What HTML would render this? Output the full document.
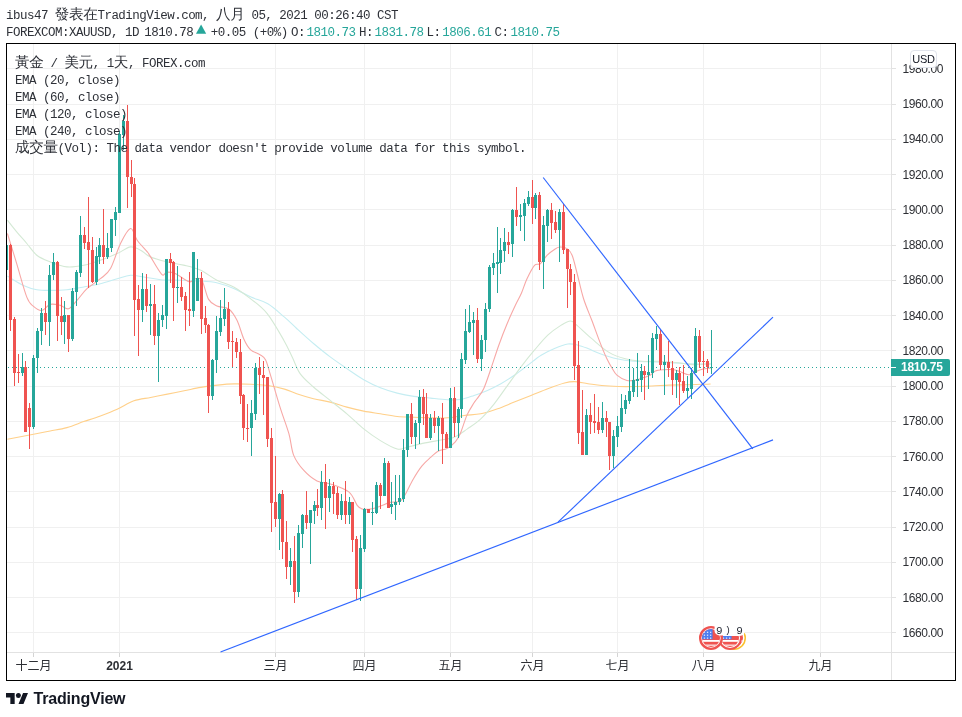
<!DOCTYPE html>
<html lang="zh-Hant"><head><meta charset="utf-8"><title>XAUUSD</title>
<style>
html,body{margin:0;padding:0;background:#fff;}
body{width:962px;height:717px;position:relative;overflow:hidden;font-family:"Liberation Sans","Noto Sans CJK TC",sans-serif;color:#131722;}
.chart{position:absolute;left:0;top:0;}
.frame{position:absolute;left:6px;top:43px;width:950px;height:638px;box-sizing:border-box;border:1px solid #000;}
.mono{position:absolute;white-space:pre;font-family:"Liberation Mono","WenQuanYi Zen Hei","Noto Sans CJK TC",monospace;font-size:12.5px;letter-spacing:-0.5px;line-height:16px;color:#2e3138;}
.mono .cj{font-size:14.6px;letter-spacing:-0.4px;}
.mono .v{color:#26a69a;}
.pl{position:absolute;left:896px;width:47px;text-align:right;font-size:12px;letter-spacing:-0.4px;line-height:16px;color:#2d2f34;}
.tm{position:absolute;top:658px;width:60px;text-align:center;font-size:12px;line-height:16px;color:#2d2f34;}
.tm.b{font-weight:bold;}
.usd{position:absolute;left:910px;top:50px;width:27px;height:18px;box-sizing:border-box;border:1px solid #e0e3eb;border-radius:4px;background:#fff;font-size:11px;line-height:16px;text-align:center;color:#131722;letter-spacing:-0.3px;}
.cur{position:absolute;left:891px;top:359px;width:59px;height:17px;background:#26a69a;border-radius:0 2px 2px 0;color:#fff;font-weight:bold;font-size:12px;letter-spacing:-0.25px;line-height:17px;}
.cur span{position:absolute;left:10px;top:0;}
.cur i{position:absolute;left:0;top:8px;width:5px;height:1px;background:#fff;}
.logo{position:absolute;left:6px;top:692.5px;}
.tv{position:absolute;left:33.6px;top:689.5px;font-size:16px;font-weight:bold;line-height:18px;color:#131722;letter-spacing:-0.2px;}
</style></head><body>
<svg class="chart" width="962" height="717" viewBox="0 0 962 717">
<g shape-rendering="crispEdges"><rect x="33" y="44" width="1" height="608" fill="#f0f0f0"/><rect x="33" y="653" width="1" height="4" fill="#d4d4d4"/><rect x="119" y="44" width="1" height="608" fill="#f0f0f0"/><rect x="119" y="653" width="1" height="4" fill="#d4d4d4"/><rect x="275" y="44" width="1" height="608" fill="#f0f0f0"/><rect x="275" y="653" width="1" height="4" fill="#d4d4d4"/><rect x="364" y="44" width="1" height="608" fill="#f0f0f0"/><rect x="364" y="653" width="1" height="4" fill="#d4d4d4"/><rect x="450" y="44" width="1" height="608" fill="#f0f0f0"/><rect x="450" y="653" width="1" height="4" fill="#d4d4d4"/><rect x="532" y="44" width="1" height="608" fill="#f0f0f0"/><rect x="532" y="653" width="1" height="4" fill="#d4d4d4"/><rect x="617" y="44" width="1" height="608" fill="#f0f0f0"/><rect x="617" y="653" width="1" height="4" fill="#d4d4d4"/><rect x="703" y="44" width="1" height="608" fill="#f0f0f0"/><rect x="703" y="653" width="1" height="4" fill="#d4d4d4"/><rect x="820" y="44" width="1" height="608" fill="#f0f0f0"/><rect x="820" y="653" width="1" height="4" fill="#d4d4d4"/><rect x="7" y="68" width="888" height="1" fill="#f0f0f0"/><rect x="7" y="104" width="888" height="1" fill="#f0f0f0"/><rect x="7" y="139" width="888" height="1" fill="#f0f0f0"/><rect x="7" y="174" width="888" height="1" fill="#f0f0f0"/><rect x="7" y="209" width="888" height="1" fill="#f0f0f0"/><rect x="7" y="245" width="888" height="1" fill="#f0f0f0"/><rect x="7" y="280" width="888" height="1" fill="#f0f0f0"/><rect x="7" y="315" width="888" height="1" fill="#f0f0f0"/><rect x="7" y="350" width="888" height="1" fill="#f0f0f0"/><rect x="7" y="386" width="888" height="1" fill="#f0f0f0"/><rect x="7" y="421" width="888" height="1" fill="#f0f0f0"/><rect x="7" y="456" width="888" height="1" fill="#f0f0f0"/><rect x="7" y="491" width="888" height="1" fill="#f0f0f0"/><rect x="7" y="527" width="888" height="1" fill="#f0f0f0"/><rect x="7" y="562" width="888" height="1" fill="#f0f0f0"/><rect x="7" y="597" width="888" height="1" fill="#f0f0f0"/><rect x="7" y="632" width="888" height="1" fill="#f0f0f0"/><rect x="891" y="44" width="1" height="636" fill="#e2e2e2"/><rect x="7" y="652" width="948" height="1" fill="#e2e2e2"/><rect x="891" y="68" width="5" height="1" fill="#e2e2e2"/><rect x="891" y="104" width="5" height="1" fill="#e2e2e2"/><rect x="891" y="139" width="5" height="1" fill="#e2e2e2"/><rect x="891" y="174" width="5" height="1" fill="#e2e2e2"/><rect x="891" y="209" width="5" height="1" fill="#e2e2e2"/><rect x="891" y="245" width="5" height="1" fill="#e2e2e2"/><rect x="891" y="280" width="5" height="1" fill="#e2e2e2"/><rect x="891" y="315" width="5" height="1" fill="#e2e2e2"/><rect x="891" y="350" width="5" height="1" fill="#e2e2e2"/><rect x="891" y="386" width="5" height="1" fill="#e2e2e2"/><rect x="891" y="421" width="5" height="1" fill="#e2e2e2"/><rect x="891" y="456" width="5" height="1" fill="#e2e2e2"/><rect x="891" y="491" width="5" height="1" fill="#e2e2e2"/><rect x="891" y="527" width="5" height="1" fill="#e2e2e2"/><rect x="891" y="562" width="5" height="1" fill="#e2e2e2"/><rect x="891" y="597" width="5" height="1" fill="#e2e2e2"/><rect x="891" y="632" width="5" height="1" fill="#e2e2e2"/></g>
<g><path d="M7.4,439.3 C11.8,438.5 26.4,435.7 33.5,434.3 C40.6,432.9 44.6,432.1 50.2,431.0 C55.8,429.9 61.3,429.2 66.9,427.6 C72.5,426.0 78.1,423.6 83.7,421.6 C89.3,419.7 94.8,418.0 100.4,415.9 C106.0,413.8 111.6,411.7 117.2,409.2 C122.8,406.7 128.3,402.8 133.9,400.8 C139.5,398.9 145.0,398.6 150.6,397.5 C156.2,396.4 161.8,395.2 167.4,394.1 C173.0,393.0 178.5,391.9 184.1,390.8 C189.7,389.7 195.2,388.3 200.8,387.4 C206.4,386.4 212.0,385.7 217.6,385.1 C223.2,384.5 228.7,384.0 234.3,383.9 C239.9,383.8 245.4,384.0 251.0,384.3 C256.6,384.6 262.2,384.7 267.8,385.5 C273.4,386.3 279.7,387.7 284.5,389.1 C289.3,390.5 291.9,392.1 296.7,393.7 C301.5,395.3 307.9,397.3 313.5,398.7 C319.1,400.1 324.6,400.7 330.2,402.1 C335.8,403.5 341.3,405.6 346.9,407.1 C352.5,408.6 358.1,410.0 363.7,411.1 C369.3,412.2 374.8,412.9 380.4,413.8 C386.0,414.7 391.6,415.9 397.2,416.5 C402.8,417.1 408.3,417.0 413.9,417.2 C419.5,417.4 425.0,417.7 430.6,417.8 C436.2,417.9 441.8,418.2 447.4,417.8 C453.0,417.4 458.5,416.2 464.1,415.5 C469.7,414.8 475.2,414.9 480.8,413.8 C486.4,412.7 492.0,410.8 497.6,408.8 C503.2,406.9 508.7,404.3 514.3,402.1 C519.9,399.9 525.4,397.6 531.0,395.4 C536.6,393.2 542.2,390.8 547.8,388.7 C553.4,386.6 560.0,384.2 564.5,383.0 C569.0,381.8 570.7,381.5 574.6,381.6 C578.5,381.7 583.5,383.1 588.0,383.7 C592.5,384.3 596.7,385.0 601.8,385.5 C606.9,386.0 613.0,386.3 618.6,386.5 C624.2,386.7 629.7,386.6 635.3,386.5 C640.9,386.4 646.4,386.2 652.0,386.0 C657.6,385.8 663.2,385.3 668.8,385.1 C674.4,384.9 679.9,384.9 685.5,384.8 C691.1,384.7 698.1,384.4 702.3,384.3 C706.5,384.2 709.2,384.1 710.6,384.0" fill="none" stroke="#ffd08a" stroke-width="1.1" stroke-linejoin="round"/><path d="M7.4,276.0 C7.8,276.3 7.3,276.1 10.0,277.7 C12.7,279.3 18.9,283.4 23.4,285.4 C27.9,287.4 32.3,288.9 36.8,289.7 C41.3,290.5 45.2,290.4 50.2,290.4 C55.2,290.4 61.3,290.3 66.9,289.7 C72.5,289.1 78.1,288.0 83.7,287.0 C89.3,286.0 94.8,285.1 100.4,283.7 C106.0,282.3 112.2,280.1 117.2,278.7 C122.2,277.3 126.0,275.6 130.5,275.3 C134.9,275.0 138.9,276.3 143.9,277.0 C148.9,277.7 154.5,279.1 160.7,279.7 C166.8,280.2 174.1,280.1 180.8,280.3 C187.5,280.5 194.7,280.6 200.8,281.0 C206.9,281.4 212.0,281.7 217.6,283.0 C223.2,284.3 228.7,286.3 234.3,288.7 C239.9,291.1 245.4,294.6 251.0,297.1 C256.6,299.6 262.2,300.5 267.8,303.8 C273.4,307.1 279.7,313.1 284.5,317.2 C289.3,321.3 291.9,324.1 296.7,328.5 C301.5,332.9 307.9,338.8 313.5,343.5 C319.1,348.2 324.6,352.7 330.2,356.9 C335.8,361.1 341.3,364.8 346.9,368.6 C352.5,372.4 358.1,376.5 363.7,379.7 C369.3,382.9 374.8,385.5 380.4,387.7 C386.0,389.9 391.6,391.7 397.2,393.1 C402.8,394.6 408.3,395.6 413.9,396.4 C419.5,397.2 425.0,397.6 430.6,398.1 C436.2,398.7 442.4,399.5 447.4,399.7 C452.4,399.9 456.4,400.1 460.8,399.4 C465.2,398.7 469.7,396.9 474.1,395.4 C478.6,393.9 483.0,392.3 487.5,390.4 C492.0,388.4 496.4,386.2 500.9,383.7 C505.4,381.2 509.8,378.4 514.3,375.3 C518.8,372.2 523.2,368.7 527.7,365.3 C532.2,361.9 536.6,358.0 541.1,355.2 C545.6,352.4 550.0,350.4 554.5,348.5 C559.0,346.6 564.0,344.6 567.9,344.0 C571.8,343.4 574.6,344.4 577.9,345.2 C581.2,345.9 584.2,347.1 587.9,348.5 C591.6,349.9 595.4,352.1 600.2,353.8 C605.0,355.5 611.3,357.6 616.9,358.8 C622.5,360.1 628.1,360.8 633.7,361.3 C639.3,361.8 644.8,361.6 650.4,361.8 C656.0,362.0 661.6,362.2 667.2,362.5 C672.8,362.8 676.7,363.2 683.9,363.5 C691.1,363.8 706.1,364.1 710.6,364.2" fill="none" stroke="#c5edf2" stroke-width="1.1" stroke-linejoin="round"/><path d="M7.4,220.1 C8.9,222.1 13.5,227.9 16.7,231.8 C19.9,235.7 23.5,239.6 26.8,243.5 C30.1,247.4 32.9,252.1 36.8,255.2 C40.7,258.3 45.2,259.9 50.2,261.9 C55.2,263.8 61.3,266.3 66.9,266.9 C72.5,267.5 78.1,266.4 83.7,265.3 C89.3,264.2 94.8,262.2 100.4,260.3 C106.0,258.4 112.2,255.8 117.2,253.6 C122.2,251.4 126.6,247.5 130.5,246.9 C134.4,246.3 137.3,248.6 140.6,250.2 C143.8,251.8 145.7,254.8 150.0,256.7 C154.3,258.6 161.1,260.4 166.7,261.8 C172.3,263.2 177.9,263.7 183.5,265.1 C189.1,266.5 194.6,267.6 200.2,270.1 C205.8,272.6 211.3,277.4 216.9,280.2 C222.5,283.0 228.1,283.8 233.7,286.9 C239.3,290.0 244.8,294.2 250.4,298.6 C256.0,303.1 261.6,306.6 267.2,313.6 C272.8,320.6 279.7,333.1 283.9,340.4 C288.1,347.7 289.6,351.7 292.3,357.2 C295.0,362.7 296.6,368.6 300.1,373.6 C303.6,378.6 308.5,382.5 313.5,387.0 C318.5,391.5 324.6,395.9 330.2,400.4 C335.8,404.9 341.3,409.1 346.9,413.8 C352.5,418.6 358.1,424.4 363.7,428.9 C369.3,433.4 374.8,437.2 380.4,440.6 C386.0,444.0 392.7,447.9 397.2,449.0 C401.7,450.1 403.3,448.2 407.2,447.3 C411.1,446.4 415.6,445.0 420.6,443.9 C425.6,442.8 431.7,441.7 437.3,440.6 C442.9,439.5 449.1,439.1 454.1,437.2 C459.1,435.2 462.9,432.0 467.4,428.9 C471.8,425.8 476.3,423.0 480.8,418.8 C485.3,414.6 489.7,409.4 494.2,403.8 C498.7,398.2 503.1,391.5 507.6,385.4 C512.1,379.2 516.5,372.8 521.0,366.9 C525.5,361.0 529.9,355.5 534.4,350.2 C538.9,344.9 543.3,339.3 547.8,335.1 C552.3,330.9 557.4,327.5 561.2,325.1 C565.0,322.8 567.9,321.0 570.5,321.0 C573.1,321.0 573.5,322.4 577.0,325.3 C580.5,328.2 586.5,334.2 591.8,338.7 C597.1,343.2 603.0,348.8 608.6,352.1 C614.2,355.5 619.7,357.3 625.3,358.8 C630.9,360.3 636.4,360.9 642.0,361.3 C647.6,361.7 653.2,361.1 658.8,361.3 C664.4,361.5 669.9,361.9 675.5,362.5 C681.1,363.1 686.4,364.4 692.3,364.6 C698.1,364.8 707.5,363.9 710.6,363.8" fill="none" stroke="#d4e9d5" stroke-width="1.1" stroke-linejoin="round"/><path d="M7.4,233.5 C8.9,238.5 13.5,253.0 16.7,263.6 C19.9,274.2 24.0,290.0 26.8,297.1 C29.6,304.2 31.0,304.2 33.5,306.4 C36.0,308.6 39.0,310.8 41.8,310.5 C44.6,310.2 47.1,305.2 50.2,304.4 C53.3,303.5 57.2,304.7 60.3,305.4 C63.4,306.1 65.8,309.6 68.6,308.8 C71.4,308.0 73.9,303.8 77.0,300.4 C80.1,297.0 83.1,292.3 87.0,288.7 C90.9,285.1 96.5,282.0 100.4,278.7 C104.3,275.4 107.2,274.5 110.5,268.6 C113.8,262.7 117.2,250.2 120.5,243.5 C123.8,236.8 127.7,229.1 130.5,228.5 C133.3,227.9 134.4,236.3 137.2,240.2 C140.0,244.1 145.2,249.3 147.3,251.9 C149.4,254.5 147.6,252.2 150.0,255.9 C152.4,259.6 158.9,271.6 161.7,274.3 C164.5,277.0 164.5,272.2 166.7,272.1 C168.9,272.0 171.3,271.9 175.1,273.5 C178.9,275.1 186.0,280.9 189.3,281.8 C192.7,282.7 193.1,279.1 195.2,278.8 C197.3,278.5 199.7,276.8 201.9,280.2 C204.1,283.6 206.1,295.1 208.6,299.4 C211.1,303.7 213.6,304.5 216.9,306.1 C220.2,307.7 225.3,306.6 228.7,309.0 C232.0,311.4 234.5,315.4 237.0,320.3 C239.5,325.2 241.5,333.8 243.7,338.7 C245.9,343.6 247.8,347.0 250.4,349.6 C253.1,352.2 257.1,352.8 259.6,354.5 C262.1,356.2 263.7,356.3 265.5,359.7 C267.3,363.1 268.0,367.0 270.5,375.1 C273.0,383.2 277.4,398.8 280.5,408.6 C283.6,418.4 286.7,425.9 288.9,433.7 C291.1,441.4 291.2,449.0 293.6,455.1 C296.1,461.2 299.7,465.9 303.6,470.2 C307.5,474.5 312.5,478.7 317.0,481.0 C321.5,483.3 325.1,482.1 330.4,483.9 C335.7,485.7 344.3,488.3 348.8,491.9 C353.3,495.5 355.0,502.4 357.2,505.3 C359.4,508.2 359.7,508.4 362.2,509.0 C364.7,509.6 369.2,509.2 372.3,508.7 C375.4,508.2 377.7,507.1 380.6,506.0 C383.6,504.9 386.8,503.2 390.0,502.4 C393.2,501.6 397.6,502.6 400.1,501.3 C402.6,500.0 402.9,498.4 405.1,494.6 C407.3,490.8 410.7,483.4 413.5,478.7 C416.3,473.9 419.0,469.6 421.8,466.1 C424.6,462.6 427.4,460.2 430.2,457.7 C433.0,455.2 435.8,452.5 438.6,451.0 C441.4,449.5 444.1,450.0 446.9,448.5 C449.7,447.0 453.1,444.3 455.3,441.8 C457.5,439.3 458.4,437.9 460.3,433.5 C462.2,429.1 464.8,420.1 467.0,415.1 C469.2,410.1 472.0,406.0 473.7,403.3 C475.4,400.6 475.3,401.2 477.0,398.8 C478.7,396.4 481.5,393.4 483.7,388.7 C485.9,383.9 487.9,377.6 490.4,370.3 C492.9,363.1 496.0,353.0 498.8,345.2 C501.6,337.4 504.4,330.2 507.2,323.5 C510.0,316.8 513.1,310.2 515.5,305.1 C517.9,300.0 519.6,297.4 521.5,293.0 C523.4,288.6 524.8,283.4 527.0,278.8 C529.2,274.2 532.3,267.9 534.5,265.4 C536.7,262.9 538.2,265.4 540.3,263.7 C542.4,262.0 544.8,257.6 547.0,255.3 C549.2,253.0 551.6,251.4 553.7,250.0 C555.8,248.6 557.4,247.2 559.6,247.0 C561.8,246.8 565.0,247.2 567.1,248.6 C569.2,250.0 570.5,251.2 572.1,255.3 C573.8,259.4 575.1,265.8 577.0,273.0 C578.9,280.2 581.0,290.6 583.5,298.5 C586.0,306.4 589.0,312.9 591.8,320.3 C594.6,327.7 597.7,336.5 600.2,342.9 C602.7,349.3 604.9,354.6 606.9,358.8 C608.9,363.0 610.3,365.3 612.0,368.0 C613.7,370.7 614.4,373.0 616.9,375.1 C619.4,377.2 623.8,379.7 626.9,380.5 C630.0,381.3 632.5,380.6 635.3,380.1 C638.1,379.6 641.2,378.4 643.7,377.6 C646.2,376.8 648.5,376.2 650.4,375.1 C652.3,374.0 653.2,371.8 655.4,370.9 C657.6,370.0 660.7,369.9 663.8,369.7 C666.9,369.5 671.0,369.3 673.8,369.7 C676.6,370.1 678.0,370.9 680.5,371.8 C683.0,372.7 686.7,374.7 688.9,374.8 C691.1,374.9 691.7,373.5 693.9,372.6 C696.1,371.7 699.5,369.9 702.3,369.2 C705.1,368.4 709.2,368.3 710.6,368.1" fill="none" stroke="#f7a8a6" stroke-width="1.1" stroke-linejoin="round"/></g>
<g shape-rendering="crispEdges"><rect x="8" y="367" width="1" height="1" fill="#26a69a"/><rect x="12" y="367" width="1" height="1" fill="#26a69a"/><rect x="16" y="367" width="1" height="1" fill="#26a69a"/><rect x="20" y="367" width="1" height="1" fill="#26a69a"/><rect x="24" y="367" width="1" height="1" fill="#26a69a"/><rect x="28" y="367" width="1" height="1" fill="#26a69a"/><rect x="32" y="367" width="1" height="1" fill="#26a69a"/><rect x="36" y="367" width="1" height="1" fill="#26a69a"/><rect x="40" y="367" width="1" height="1" fill="#26a69a"/><rect x="44" y="367" width="1" height="1" fill="#26a69a"/><rect x="48" y="367" width="1" height="1" fill="#26a69a"/><rect x="52" y="367" width="1" height="1" fill="#26a69a"/><rect x="56" y="367" width="1" height="1" fill="#26a69a"/><rect x="60" y="367" width="1" height="1" fill="#26a69a"/><rect x="64" y="367" width="1" height="1" fill="#26a69a"/><rect x="68" y="367" width="1" height="1" fill="#26a69a"/><rect x="72" y="367" width="1" height="1" fill="#26a69a"/><rect x="76" y="367" width="1" height="1" fill="#26a69a"/><rect x="80" y="367" width="1" height="1" fill="#26a69a"/><rect x="84" y="367" width="1" height="1" fill="#26a69a"/><rect x="88" y="367" width="1" height="1" fill="#26a69a"/><rect x="92" y="367" width="1" height="1" fill="#26a69a"/><rect x="96" y="367" width="1" height="1" fill="#26a69a"/><rect x="100" y="367" width="1" height="1" fill="#26a69a"/><rect x="104" y="367" width="1" height="1" fill="#26a69a"/><rect x="108" y="367" width="1" height="1" fill="#26a69a"/><rect x="112" y="367" width="1" height="1" fill="#26a69a"/><rect x="116" y="367" width="1" height="1" fill="#26a69a"/><rect x="120" y="367" width="1" height="1" fill="#26a69a"/><rect x="124" y="367" width="1" height="1" fill="#26a69a"/><rect x="128" y="367" width="1" height="1" fill="#26a69a"/><rect x="132" y="367" width="1" height="1" fill="#26a69a"/><rect x="136" y="367" width="1" height="1" fill="#26a69a"/><rect x="140" y="367" width="1" height="1" fill="#26a69a"/><rect x="144" y="367" width="1" height="1" fill="#26a69a"/><rect x="148" y="367" width="1" height="1" fill="#26a69a"/><rect x="152" y="367" width="1" height="1" fill="#26a69a"/><rect x="156" y="367" width="1" height="1" fill="#26a69a"/><rect x="160" y="367" width="1" height="1" fill="#26a69a"/><rect x="164" y="367" width="1" height="1" fill="#26a69a"/><rect x="168" y="367" width="1" height="1" fill="#26a69a"/><rect x="172" y="367" width="1" height="1" fill="#26a69a"/><rect x="176" y="367" width="1" height="1" fill="#26a69a"/><rect x="180" y="367" width="1" height="1" fill="#26a69a"/><rect x="184" y="367" width="1" height="1" fill="#26a69a"/><rect x="188" y="367" width="1" height="1" fill="#26a69a"/><rect x="192" y="367" width="1" height="1" fill="#26a69a"/><rect x="196" y="367" width="1" height="1" fill="#26a69a"/><rect x="200" y="367" width="1" height="1" fill="#26a69a"/><rect x="204" y="367" width="1" height="1" fill="#26a69a"/><rect x="208" y="367" width="1" height="1" fill="#26a69a"/><rect x="212" y="367" width="1" height="1" fill="#26a69a"/><rect x="216" y="367" width="1" height="1" fill="#26a69a"/><rect x="220" y="367" width="1" height="1" fill="#26a69a"/><rect x="224" y="367" width="1" height="1" fill="#26a69a"/><rect x="228" y="367" width="1" height="1" fill="#26a69a"/><rect x="232" y="367" width="1" height="1" fill="#26a69a"/><rect x="236" y="367" width="1" height="1" fill="#26a69a"/><rect x="240" y="367" width="1" height="1" fill="#26a69a"/><rect x="244" y="367" width="1" height="1" fill="#26a69a"/><rect x="248" y="367" width="1" height="1" fill="#26a69a"/><rect x="252" y="367" width="1" height="1" fill="#26a69a"/><rect x="256" y="367" width="1" height="1" fill="#26a69a"/><rect x="260" y="367" width="1" height="1" fill="#26a69a"/><rect x="264" y="367" width="1" height="1" fill="#26a69a"/><rect x="268" y="367" width="1" height="1" fill="#26a69a"/><rect x="272" y="367" width="1" height="1" fill="#26a69a"/><rect x="276" y="367" width="1" height="1" fill="#26a69a"/><rect x="280" y="367" width="1" height="1" fill="#26a69a"/><rect x="284" y="367" width="1" height="1" fill="#26a69a"/><rect x="288" y="367" width="1" height="1" fill="#26a69a"/><rect x="292" y="367" width="1" height="1" fill="#26a69a"/><rect x="296" y="367" width="1" height="1" fill="#26a69a"/><rect x="300" y="367" width="1" height="1" fill="#26a69a"/><rect x="304" y="367" width="1" height="1" fill="#26a69a"/><rect x="308" y="367" width="1" height="1" fill="#26a69a"/><rect x="312" y="367" width="1" height="1" fill="#26a69a"/><rect x="316" y="367" width="1" height="1" fill="#26a69a"/><rect x="320" y="367" width="1" height="1" fill="#26a69a"/><rect x="324" y="367" width="1" height="1" fill="#26a69a"/><rect x="328" y="367" width="1" height="1" fill="#26a69a"/><rect x="332" y="367" width="1" height="1" fill="#26a69a"/><rect x="336" y="367" width="1" height="1" fill="#26a69a"/><rect x="340" y="367" width="1" height="1" fill="#26a69a"/><rect x="344" y="367" width="1" height="1" fill="#26a69a"/><rect x="348" y="367" width="1" height="1" fill="#26a69a"/><rect x="352" y="367" width="1" height="1" fill="#26a69a"/><rect x="356" y="367" width="1" height="1" fill="#26a69a"/><rect x="360" y="367" width="1" height="1" fill="#26a69a"/><rect x="364" y="367" width="1" height="1" fill="#26a69a"/><rect x="368" y="367" width="1" height="1" fill="#26a69a"/><rect x="372" y="367" width="1" height="1" fill="#26a69a"/><rect x="376" y="367" width="1" height="1" fill="#26a69a"/><rect x="380" y="367" width="1" height="1" fill="#26a69a"/><rect x="384" y="367" width="1" height="1" fill="#26a69a"/><rect x="388" y="367" width="1" height="1" fill="#26a69a"/><rect x="392" y="367" width="1" height="1" fill="#26a69a"/><rect x="396" y="367" width="1" height="1" fill="#26a69a"/><rect x="400" y="367" width="1" height="1" fill="#26a69a"/><rect x="404" y="367" width="1" height="1" fill="#26a69a"/><rect x="408" y="367" width="1" height="1" fill="#26a69a"/><rect x="412" y="367" width="1" height="1" fill="#26a69a"/><rect x="416" y="367" width="1" height="1" fill="#26a69a"/><rect x="420" y="367" width="1" height="1" fill="#26a69a"/><rect x="424" y="367" width="1" height="1" fill="#26a69a"/><rect x="428" y="367" width="1" height="1" fill="#26a69a"/><rect x="432" y="367" width="1" height="1" fill="#26a69a"/><rect x="436" y="367" width="1" height="1" fill="#26a69a"/><rect x="440" y="367" width="1" height="1" fill="#26a69a"/><rect x="444" y="367" width="1" height="1" fill="#26a69a"/><rect x="448" y="367" width="1" height="1" fill="#26a69a"/><rect x="452" y="367" width="1" height="1" fill="#26a69a"/><rect x="456" y="367" width="1" height="1" fill="#26a69a"/><rect x="460" y="367" width="1" height="1" fill="#26a69a"/><rect x="464" y="367" width="1" height="1" fill="#26a69a"/><rect x="468" y="367" width="1" height="1" fill="#26a69a"/><rect x="472" y="367" width="1" height="1" fill="#26a69a"/><rect x="476" y="367" width="1" height="1" fill="#26a69a"/><rect x="480" y="367" width="1" height="1" fill="#26a69a"/><rect x="484" y="367" width="1" height="1" fill="#26a69a"/><rect x="488" y="367" width="1" height="1" fill="#26a69a"/><rect x="492" y="367" width="1" height="1" fill="#26a69a"/><rect x="496" y="367" width="1" height="1" fill="#26a69a"/><rect x="500" y="367" width="1" height="1" fill="#26a69a"/><rect x="504" y="367" width="1" height="1" fill="#26a69a"/><rect x="508" y="367" width="1" height="1" fill="#26a69a"/><rect x="512" y="367" width="1" height="1" fill="#26a69a"/><rect x="516" y="367" width="1" height="1" fill="#26a69a"/><rect x="520" y="367" width="1" height="1" fill="#26a69a"/><rect x="524" y="367" width="1" height="1" fill="#26a69a"/><rect x="528" y="367" width="1" height="1" fill="#26a69a"/><rect x="532" y="367" width="1" height="1" fill="#26a69a"/><rect x="536" y="367" width="1" height="1" fill="#26a69a"/><rect x="540" y="367" width="1" height="1" fill="#26a69a"/><rect x="544" y="367" width="1" height="1" fill="#26a69a"/><rect x="548" y="367" width="1" height="1" fill="#26a69a"/><rect x="552" y="367" width="1" height="1" fill="#26a69a"/><rect x="556" y="367" width="1" height="1" fill="#26a69a"/><rect x="560" y="367" width="1" height="1" fill="#26a69a"/><rect x="564" y="367" width="1" height="1" fill="#26a69a"/><rect x="568" y="367" width="1" height="1" fill="#26a69a"/><rect x="572" y="367" width="1" height="1" fill="#26a69a"/><rect x="576" y="367" width="1" height="1" fill="#26a69a"/><rect x="580" y="367" width="1" height="1" fill="#26a69a"/><rect x="584" y="367" width="1" height="1" fill="#26a69a"/><rect x="588" y="367" width="1" height="1" fill="#26a69a"/><rect x="592" y="367" width="1" height="1" fill="#26a69a"/><rect x="596" y="367" width="1" height="1" fill="#26a69a"/><rect x="600" y="367" width="1" height="1" fill="#26a69a"/><rect x="604" y="367" width="1" height="1" fill="#26a69a"/><rect x="608" y="367" width="1" height="1" fill="#26a69a"/><rect x="612" y="367" width="1" height="1" fill="#26a69a"/><rect x="616" y="367" width="1" height="1" fill="#26a69a"/><rect x="620" y="367" width="1" height="1" fill="#26a69a"/><rect x="624" y="367" width="1" height="1" fill="#26a69a"/><rect x="628" y="367" width="1" height="1" fill="#26a69a"/><rect x="632" y="367" width="1" height="1" fill="#26a69a"/><rect x="636" y="367" width="1" height="1" fill="#26a69a"/><rect x="640" y="367" width="1" height="1" fill="#26a69a"/><rect x="644" y="367" width="1" height="1" fill="#26a69a"/><rect x="648" y="367" width="1" height="1" fill="#26a69a"/><rect x="652" y="367" width="1" height="1" fill="#26a69a"/><rect x="656" y="367" width="1" height="1" fill="#26a69a"/><rect x="660" y="367" width="1" height="1" fill="#26a69a"/><rect x="664" y="367" width="1" height="1" fill="#26a69a"/><rect x="668" y="367" width="1" height="1" fill="#26a69a"/><rect x="672" y="367" width="1" height="1" fill="#26a69a"/><rect x="676" y="367" width="1" height="1" fill="#26a69a"/><rect x="680" y="367" width="1" height="1" fill="#26a69a"/><rect x="684" y="367" width="1" height="1" fill="#26a69a"/><rect x="688" y="367" width="1" height="1" fill="#26a69a"/><rect x="692" y="367" width="1" height="1" fill="#26a69a"/><rect x="696" y="367" width="1" height="1" fill="#26a69a"/><rect x="700" y="367" width="1" height="1" fill="#26a69a"/><rect x="704" y="367" width="1" height="1" fill="#26a69a"/><rect x="708" y="367" width="1" height="1" fill="#26a69a"/><rect x="712" y="367" width="1" height="1" fill="#26a69a"/><rect x="716" y="367" width="1" height="1" fill="#26a69a"/><rect x="720" y="367" width="1" height="1" fill="#26a69a"/><rect x="724" y="367" width="1" height="1" fill="#26a69a"/><rect x="728" y="367" width="1" height="1" fill="#26a69a"/><rect x="732" y="367" width="1" height="1" fill="#26a69a"/><rect x="736" y="367" width="1" height="1" fill="#26a69a"/><rect x="740" y="367" width="1" height="1" fill="#26a69a"/><rect x="744" y="367" width="1" height="1" fill="#26a69a"/><rect x="748" y="367" width="1" height="1" fill="#26a69a"/><rect x="752" y="367" width="1" height="1" fill="#26a69a"/><rect x="756" y="367" width="1" height="1" fill="#26a69a"/><rect x="760" y="367" width="1" height="1" fill="#26a69a"/><rect x="764" y="367" width="1" height="1" fill="#26a69a"/><rect x="768" y="367" width="1" height="1" fill="#26a69a"/><rect x="772" y="367" width="1" height="1" fill="#26a69a"/><rect x="776" y="367" width="1" height="1" fill="#26a69a"/><rect x="780" y="367" width="1" height="1" fill="#26a69a"/><rect x="784" y="367" width="1" height="1" fill="#26a69a"/><rect x="788" y="367" width="1" height="1" fill="#26a69a"/><rect x="792" y="367" width="1" height="1" fill="#26a69a"/><rect x="796" y="367" width="1" height="1" fill="#26a69a"/><rect x="800" y="367" width="1" height="1" fill="#26a69a"/><rect x="804" y="367" width="1" height="1" fill="#26a69a"/><rect x="808" y="367" width="1" height="1" fill="#26a69a"/><rect x="812" y="367" width="1" height="1" fill="#26a69a"/><rect x="816" y="367" width="1" height="1" fill="#26a69a"/><rect x="820" y="367" width="1" height="1" fill="#26a69a"/><rect x="824" y="367" width="1" height="1" fill="#26a69a"/><rect x="828" y="367" width="1" height="1" fill="#26a69a"/><rect x="832" y="367" width="1" height="1" fill="#26a69a"/><rect x="836" y="367" width="1" height="1" fill="#26a69a"/><rect x="840" y="367" width="1" height="1" fill="#26a69a"/><rect x="844" y="367" width="1" height="1" fill="#26a69a"/><rect x="848" y="367" width="1" height="1" fill="#26a69a"/><rect x="852" y="367" width="1" height="1" fill="#26a69a"/><rect x="856" y="367" width="1" height="1" fill="#26a69a"/><rect x="860" y="367" width="1" height="1" fill="#26a69a"/><rect x="864" y="367" width="1" height="1" fill="#26a69a"/><rect x="868" y="367" width="1" height="1" fill="#26a69a"/><rect x="872" y="367" width="1" height="1" fill="#26a69a"/><rect x="876" y="367" width="1" height="1" fill="#26a69a"/><rect x="880" y="367" width="1" height="1" fill="#26a69a"/><rect x="884" y="367" width="1" height="1" fill="#26a69a"/><rect x="888" y="367" width="1" height="1" fill="#26a69a"/></g>
<clipPath id="cc"><rect x="7" y="44" width="884" height="608"/></clipPath><g shape-rendering="crispEdges" clip-path="url(#cc)"><rect x="6" y="245" width="1" height="25" fill="#26a69a"/><rect x="5" y="245" width="3" height="25" fill="#26a69a"/><rect x="10" y="244" width="1" height="87" fill="#ef5350"/><rect x="9" y="245" width="3" height="75" fill="#ef5350"/><rect x="14" y="317" width="1" height="69" fill="#ef5350"/><rect x="13" y="319" width="3" height="54" fill="#ef5350"/><rect x="18" y="354" width="1" height="29" fill="#ef5350"/><rect x="17" y="372" width="3" height="1" fill="#ef5350"/><rect x="22" y="353" width="1" height="23" fill="#26a69a"/><rect x="21" y="367" width="3" height="6" fill="#26a69a"/><rect x="25" y="361" width="1" height="71" fill="#ef5350"/><rect x="24" y="367" width="3" height="65" fill="#ef5350"/><rect x="29" y="403" width="1" height="46" fill="#ef5350"/><rect x="28" y="408" width="3" height="19" fill="#ef5350"/><rect x="33" y="355" width="1" height="74" fill="#26a69a"/><rect x="32" y="358" width="3" height="69" fill="#26a69a"/><rect x="37" y="328" width="1" height="45" fill="#26a69a"/><rect x="36" y="331" width="3" height="27" fill="#26a69a"/><rect x="41" y="308" width="1" height="37" fill="#26a69a"/><rect x="40" y="313" width="3" height="18" fill="#26a69a"/><rect x="45" y="301" width="1" height="34" fill="#ef5350"/><rect x="44" y="313" width="3" height="9" fill="#ef5350"/><rect x="49" y="265" width="1" height="81" fill="#26a69a"/><rect x="48" y="275" width="3" height="47" fill="#26a69a"/><rect x="53" y="253" width="1" height="27" fill="#26a69a"/><rect x="52" y="262" width="3" height="13" fill="#26a69a"/><rect x="57" y="261" width="1" height="80" fill="#ef5350"/><rect x="56" y="262" width="3" height="54" fill="#ef5350"/><rect x="61" y="297" width="1" height="38" fill="#ef5350"/><rect x="60" y="316" width="3" height="6" fill="#ef5350"/><rect x="64" y="301" width="1" height="43" fill="#26a69a"/><rect x="63" y="315" width="3" height="7" fill="#26a69a"/><rect x="68" y="315" width="1" height="37" fill="#ef5350"/><rect x="67" y="315" width="3" height="24" fill="#ef5350"/><rect x="72" y="288" width="1" height="53" fill="#26a69a"/><rect x="71" y="291" width="3" height="48" fill="#26a69a"/><rect x="76" y="270" width="1" height="36" fill="#26a69a"/><rect x="75" y="272" width="3" height="20" fill="#26a69a"/><rect x="80" y="216" width="1" height="61" fill="#26a69a"/><rect x="79" y="235" width="3" height="38" fill="#26a69a"/><rect x="84" y="227" width="1" height="22" fill="#ef5350"/><rect x="83" y="235" width="3" height="8" fill="#ef5350"/><rect x="88" y="197" width="1" height="91" fill="#ef5350"/><rect x="87" y="242" width="3" height="8" fill="#ef5350"/><rect x="92" y="237" width="1" height="46" fill="#ef5350"/><rect x="91" y="250" width="3" height="32" fill="#ef5350"/><rect x="96" y="247" width="1" height="38" fill="#26a69a"/><rect x="95" y="256" width="3" height="26" fill="#26a69a"/><rect x="99" y="238" width="1" height="26" fill="#26a69a"/><rect x="98" y="245" width="3" height="12" fill="#26a69a"/><rect x="103" y="209" width="1" height="55" fill="#ef5350"/><rect x="102" y="245" width="3" height="12" fill="#ef5350"/><rect x="107" y="233" width="1" height="26" fill="#26a69a"/><rect x="106" y="248" width="3" height="9" fill="#26a69a"/><rect x="111" y="219" width="1" height="33" fill="#26a69a"/><rect x="110" y="219" width="3" height="29" fill="#26a69a"/><rect x="115" y="207" width="1" height="29" fill="#26a69a"/><rect x="114" y="212" width="3" height="8" fill="#26a69a"/><rect x="119" y="131" width="1" height="82" fill="#26a69a"/><rect x="118" y="134" width="3" height="79" fill="#26a69a"/><rect x="123" y="115" width="1" height="35" fill="#26a69a"/><rect x="122" y="121" width="3" height="14" fill="#26a69a"/><rect x="127" y="105" width="1" height="103" fill="#ef5350"/><rect x="126" y="121" width="3" height="56" fill="#ef5350"/><rect x="131" y="160" width="1" height="37" fill="#ef5350"/><rect x="130" y="177" width="3" height="7" fill="#ef5350"/><rect x="134" y="178" width="1" height="158" fill="#ef5350"/><rect x="133" y="184" width="3" height="116" fill="#ef5350"/><rect x="138" y="285" width="1" height="71" fill="#ef5350"/><rect x="137" y="299" width="3" height="11" fill="#ef5350"/><rect x="142" y="273" width="1" height="49" fill="#26a69a"/><rect x="141" y="289" width="3" height="21" fill="#26a69a"/><rect x="146" y="274" width="1" height="38" fill="#ef5350"/><rect x="145" y="289" width="3" height="17" fill="#ef5350"/><rect x="150" y="284" width="1" height="51" fill="#26a69a"/><rect x="149" y="304" width="3" height="2" fill="#26a69a"/><rect x="154" y="285" width="1" height="60" fill="#ef5350"/><rect x="153" y="304" width="3" height="32" fill="#ef5350"/><rect x="158" y="313" width="1" height="69" fill="#26a69a"/><rect x="157" y="320" width="3" height="16" fill="#26a69a"/><rect x="162" y="305" width="1" height="22" fill="#26a69a"/><rect x="161" y="315" width="3" height="5" fill="#26a69a"/><rect x="166" y="259" width="1" height="70" fill="#26a69a"/><rect x="165" y="259" width="3" height="57" fill="#26a69a"/><rect x="170" y="253" width="1" height="30" fill="#ef5350"/><rect x="169" y="259" width="3" height="4" fill="#ef5350"/><rect x="173" y="261" width="1" height="60" fill="#ef5350"/><rect x="172" y="262" width="3" height="26" fill="#ef5350"/><rect x="177" y="266" width="1" height="37" fill="#26a69a"/><rect x="176" y="287" width="3" height="1" fill="#26a69a"/><rect x="181" y="277" width="1" height="24" fill="#ef5350"/><rect x="180" y="287" width="3" height="10" fill="#ef5350"/><rect x="185" y="292" width="1" height="39" fill="#ef5350"/><rect x="184" y="296" width="3" height="14" fill="#ef5350"/><rect x="189" y="272" width="1" height="54" fill="#ef5350"/><rect x="188" y="309" width="3" height="2" fill="#ef5350"/><rect x="193" y="252" width="1" height="65" fill="#26a69a"/><rect x="192" y="252" width="3" height="59" fill="#26a69a"/><rect x="197" y="259" width="1" height="42" fill="#26a69a"/><rect x="196" y="278" width="3" height="23" fill="#26a69a"/><rect x="201" y="272" width="1" height="62" fill="#ef5350"/><rect x="200" y="278" width="3" height="41" fill="#ef5350"/><rect x="205" y="306" width="1" height="27" fill="#ef5350"/><rect x="204" y="318" width="3" height="7" fill="#ef5350"/><rect x="208" y="324" width="1" height="89" fill="#ef5350"/><rect x="207" y="325" width="3" height="71" fill="#ef5350"/><rect x="212" y="359" width="1" height="41" fill="#26a69a"/><rect x="211" y="360" width="3" height="36" fill="#26a69a"/><rect x="216" y="316" width="1" height="57" fill="#26a69a"/><rect x="215" y="331" width="3" height="29" fill="#26a69a"/><rect x="220" y="300" width="1" height="36" fill="#26a69a"/><rect x="219" y="318" width="3" height="14" fill="#26a69a"/><rect x="224" y="288" width="1" height="38" fill="#26a69a"/><rect x="223" y="309" width="3" height="10" fill="#26a69a"/><rect x="228" y="302" width="1" height="47" fill="#ef5350"/><rect x="227" y="309" width="3" height="33" fill="#ef5350"/><rect x="232" y="331" width="1" height="36" fill="#ef5350"/><rect x="231" y="341" width="3" height="1" fill="#ef5350"/><rect x="236" y="338" width="1" height="20" fill="#ef5350"/><rect x="235" y="342" width="3" height="10" fill="#ef5350"/><rect x="240" y="339" width="1" height="65" fill="#ef5350"/><rect x="239" y="352" width="3" height="44" fill="#ef5350"/><rect x="243" y="394" width="1" height="46" fill="#ef5350"/><rect x="242" y="395" width="3" height="33" fill="#ef5350"/><rect x="247" y="404" width="1" height="38" fill="#ef5350"/><rect x="246" y="428" width="3" height="1" fill="#ef5350"/><rect x="251" y="400" width="1" height="56" fill="#26a69a"/><rect x="250" y="413" width="3" height="15" fill="#26a69a"/><rect x="255" y="363" width="1" height="57" fill="#26a69a"/><rect x="254" y="368" width="3" height="46" fill="#26a69a"/><rect x="259" y="357" width="1" height="37" fill="#ef5350"/><rect x="258" y="368" width="3" height="7" fill="#ef5350"/><rect x="263" y="361" width="1" height="54" fill="#ef5350"/><rect x="262" y="375" width="3" height="3" fill="#ef5350"/><rect x="267" y="377" width="1" height="70" fill="#ef5350"/><rect x="266" y="377" width="3" height="62" fill="#ef5350"/><rect x="271" y="428" width="1" height="104" fill="#ef5350"/><rect x="270" y="438" width="3" height="65" fill="#ef5350"/><rect x="275" y="456" width="1" height="71" fill="#ef5350"/><rect x="274" y="502" width="3" height="17" fill="#ef5350"/><rect x="279" y="493" width="1" height="57" fill="#26a69a"/><rect x="278" y="494" width="3" height="25" fill="#26a69a"/><rect x="282" y="490" width="1" height="69" fill="#ef5350"/><rect x="281" y="494" width="3" height="48" fill="#ef5350"/><rect x="286" y="521" width="1" height="58" fill="#ef5350"/><rect x="285" y="542" width="3" height="25" fill="#ef5350"/><rect x="290" y="548" width="1" height="37" fill="#26a69a"/><rect x="289" y="561" width="3" height="6" fill="#26a69a"/><rect x="294" y="536" width="1" height="67" fill="#ef5350"/><rect x="293" y="561" width="3" height="31" fill="#ef5350"/><rect x="298" y="525" width="1" height="72" fill="#26a69a"/><rect x="297" y="533" width="3" height="59" fill="#26a69a"/><rect x="302" y="514" width="1" height="34" fill="#26a69a"/><rect x="301" y="515" width="3" height="19" fill="#26a69a"/><rect x="306" y="491" width="1" height="38" fill="#ef5350"/><rect x="305" y="515" width="3" height="8" fill="#ef5350"/><rect x="310" y="510" width="1" height="54" fill="#26a69a"/><rect x="309" y="510" width="3" height="13" fill="#26a69a"/><rect x="314" y="501" width="1" height="23" fill="#26a69a"/><rect x="313" y="505" width="3" height="6" fill="#26a69a"/><rect x="317" y="489" width="1" height="27" fill="#ef5350"/><rect x="316" y="505" width="3" height="3" fill="#ef5350"/><rect x="321" y="471" width="1" height="49" fill="#26a69a"/><rect x="320" y="482" width="3" height="26" fill="#26a69a"/><rect x="325" y="464" width="1" height="65" fill="#ef5350"/><rect x="324" y="482" width="3" height="16" fill="#ef5350"/><rect x="329" y="479" width="1" height="33" fill="#26a69a"/><rect x="328" y="486" width="3" height="12" fill="#26a69a"/><rect x="333" y="482" width="1" height="32" fill="#ef5350"/><rect x="332" y="486" width="3" height="8" fill="#ef5350"/><rect x="337" y="487" width="1" height="32" fill="#ef5350"/><rect x="336" y="493" width="3" height="22" fill="#ef5350"/><rect x="341" y="494" width="1" height="26" fill="#26a69a"/><rect x="340" y="501" width="3" height="14" fill="#26a69a"/><rect x="345" y="481" width="1" height="43" fill="#ef5350"/><rect x="344" y="501" width="3" height="14" fill="#ef5350"/><rect x="349" y="497" width="1" height="27" fill="#26a69a"/><rect x="348" y="502" width="3" height="13" fill="#26a69a"/><rect x="352" y="502" width="1" height="50" fill="#ef5350"/><rect x="351" y="502" width="3" height="38" fill="#ef5350"/><rect x="356" y="536" width="1" height="64" fill="#ef5350"/><rect x="355" y="539" width="3" height="50" fill="#ef5350"/><rect x="360" y="535" width="1" height="66" fill="#26a69a"/><rect x="359" y="548" width="3" height="41" fill="#26a69a"/><rect x="364" y="508" width="1" height="44" fill="#26a69a"/><rect x="363" y="509" width="3" height="40" fill="#26a69a"/><rect x="368" y="509" width="1" height="4" fill="#ef5350"/><rect x="367" y="509" width="3" height="4" fill="#ef5350"/><rect x="372" y="502" width="1" height="23" fill="#26a69a"/><rect x="371" y="512" width="3" height="1" fill="#26a69a"/><rect x="376" y="482" width="1" height="32" fill="#26a69a"/><rect x="375" y="485" width="3" height="28" fill="#26a69a"/><rect x="380" y="483" width="1" height="26" fill="#ef5350"/><rect x="379" y="485" width="3" height="11" fill="#ef5350"/><rect x="384" y="458" width="1" height="38" fill="#26a69a"/><rect x="383" y="463" width="3" height="33" fill="#26a69a"/><rect x="388" y="461" width="1" height="47" fill="#ef5350"/><rect x="387" y="463" width="3" height="45" fill="#ef5350"/><rect x="391" y="482" width="1" height="32" fill="#26a69a"/><rect x="390" y="504" width="3" height="3" fill="#26a69a"/><rect x="395" y="475" width="1" height="45" fill="#26a69a"/><rect x="394" y="502" width="3" height="3" fill="#26a69a"/><rect x="399" y="475" width="1" height="30" fill="#26a69a"/><rect x="398" y="498" width="3" height="4" fill="#26a69a"/><rect x="403" y="439" width="1" height="63" fill="#26a69a"/><rect x="402" y="450" width="3" height="49" fill="#26a69a"/><rect x="407" y="414" width="1" height="43" fill="#26a69a"/><rect x="406" y="414" width="3" height="36" fill="#26a69a"/><rect x="411" y="403" width="1" height="41" fill="#ef5350"/><rect x="410" y="414" width="3" height="23" fill="#ef5350"/><rect x="415" y="420" width="1" height="29" fill="#26a69a"/><rect x="414" y="423" width="3" height="14" fill="#26a69a"/><rect x="419" y="390" width="1" height="54" fill="#26a69a"/><rect x="418" y="397" width="3" height="26" fill="#26a69a"/><rect x="423" y="389" width="1" height="36" fill="#ef5350"/><rect x="422" y="397" width="3" height="17" fill="#ef5350"/><rect x="426" y="393" width="1" height="45" fill="#ef5350"/><rect x="425" y="414" width="3" height="24" fill="#ef5350"/><rect x="430" y="414" width="1" height="26" fill="#26a69a"/><rect x="429" y="418" width="3" height="20" fill="#26a69a"/><rect x="434" y="411" width="1" height="22" fill="#ef5350"/><rect x="433" y="418" width="3" height="8" fill="#ef5350"/><rect x="438" y="416" width="1" height="35" fill="#26a69a"/><rect x="437" y="418" width="3" height="8" fill="#26a69a"/><rect x="442" y="403" width="1" height="61" fill="#ef5350"/><rect x="441" y="418" width="3" height="16" fill="#ef5350"/><rect x="446" y="432" width="1" height="16" fill="#ef5350"/><rect x="445" y="434" width="3" height="14" fill="#ef5350"/><rect x="450" y="388" width="1" height="60" fill="#26a69a"/><rect x="449" y="398" width="3" height="50" fill="#26a69a"/><rect x="454" y="387" width="1" height="50" fill="#ef5350"/><rect x="453" y="398" width="3" height="25" fill="#ef5350"/><rect x="458" y="407" width="1" height="31" fill="#26a69a"/><rect x="457" y="409" width="3" height="14" fill="#26a69a"/><rect x="461" y="353" width="1" height="65" fill="#26a69a"/><rect x="460" y="359" width="3" height="50" fill="#26a69a"/><rect x="465" y="309" width="1" height="55" fill="#26a69a"/><rect x="464" y="331" width="3" height="29" fill="#26a69a"/><rect x="469" y="305" width="1" height="28" fill="#26a69a"/><rect x="468" y="322" width="3" height="10" fill="#26a69a"/><rect x="473" y="312" width="1" height="43" fill="#26a69a"/><rect x="472" y="320" width="3" height="3" fill="#26a69a"/><rect x="477" y="308" width="1" height="55" fill="#ef5350"/><rect x="476" y="320" width="3" height="39" fill="#ef5350"/><rect x="481" y="335" width="1" height="36" fill="#26a69a"/><rect x="480" y="340" width="3" height="19" fill="#26a69a"/><rect x="485" y="303" width="1" height="49" fill="#26a69a"/><rect x="484" y="309" width="3" height="31" fill="#26a69a"/><rect x="489" y="265" width="1" height="47" fill="#26a69a"/><rect x="488" y="267" width="3" height="42" fill="#26a69a"/><rect x="493" y="253" width="1" height="22" fill="#26a69a"/><rect x="492" y="263" width="3" height="5" fill="#26a69a"/><rect x="497" y="227" width="1" height="66" fill="#26a69a"/><rect x="496" y="262" width="3" height="2" fill="#26a69a"/><rect x="500" y="238" width="1" height="36" fill="#26a69a"/><rect x="499" y="250" width="3" height="13" fill="#26a69a"/><rect x="504" y="228" width="1" height="34" fill="#26a69a"/><rect x="503" y="242" width="3" height="9" fill="#26a69a"/><rect x="508" y="232" width="1" height="22" fill="#ef5350"/><rect x="507" y="242" width="3" height="3" fill="#ef5350"/><rect x="512" y="209" width="1" height="48" fill="#26a69a"/><rect x="511" y="210" width="3" height="34" fill="#26a69a"/><rect x="516" y="187" width="1" height="39" fill="#ef5350"/><rect x="515" y="210" width="3" height="7" fill="#ef5350"/><rect x="520" y="204" width="1" height="27" fill="#26a69a"/><rect x="519" y="215" width="3" height="2" fill="#26a69a"/><rect x="524" y="199" width="1" height="42" fill="#26a69a"/><rect x="523" y="203" width="3" height="13" fill="#26a69a"/><rect x="528" y="191" width="1" height="15" fill="#26a69a"/><rect x="527" y="197" width="3" height="7" fill="#26a69a"/><rect x="532" y="180" width="1" height="44" fill="#ef5350"/><rect x="531" y="197" width="3" height="11" fill="#ef5350"/><rect x="535" y="193" width="1" height="26" fill="#26a69a"/><rect x="534" y="195" width="3" height="13" fill="#26a69a"/><rect x="539" y="192" width="1" height="78" fill="#ef5350"/><rect x="538" y="195" width="3" height="67" fill="#ef5350"/><rect x="543" y="216" width="1" height="73" fill="#26a69a"/><rect x="542" y="225" width="3" height="37" fill="#26a69a"/><rect x="547" y="209" width="1" height="33" fill="#26a69a"/><rect x="546" y="210" width="3" height="16" fill="#26a69a"/><rect x="551" y="203" width="1" height="36" fill="#ef5350"/><rect x="550" y="210" width="3" height="13" fill="#ef5350"/><rect x="555" y="211" width="1" height="22" fill="#ef5350"/><rect x="554" y="222" width="3" height="8" fill="#ef5350"/><rect x="559" y="209" width="1" height="53" fill="#26a69a"/><rect x="558" y="212" width="3" height="18" fill="#26a69a"/><rect x="563" y="204" width="1" height="50" fill="#ef5350"/><rect x="562" y="212" width="3" height="38" fill="#ef5350"/><rect x="567" y="249" width="1" height="59" fill="#ef5350"/><rect x="566" y="249" width="3" height="20" fill="#ef5350"/><rect x="570" y="264" width="1" height="31" fill="#ef5350"/><rect x="569" y="269" width="3" height="13" fill="#ef5350"/><rect x="574" y="274" width="1" height="106" fill="#ef5350"/><rect x="573" y="282" width="3" height="84" fill="#ef5350"/><rect x="578" y="341" width="1" height="103" fill="#ef5350"/><rect x="577" y="365" width="3" height="68" fill="#ef5350"/><rect x="582" y="390" width="1" height="65" fill="#ef5350"/><rect x="581" y="432" width="3" height="23" fill="#ef5350"/><rect x="586" y="409" width="1" height="46" fill="#26a69a"/><rect x="585" y="415" width="3" height="40" fill="#26a69a"/><rect x="590" y="403" width="1" height="31" fill="#ef5350"/><rect x="589" y="415" width="3" height="7" fill="#ef5350"/><rect x="594" y="394" width="1" height="39" fill="#ef5350"/><rect x="593" y="421" width="3" height="2" fill="#ef5350"/><rect x="598" y="407" width="1" height="27" fill="#ef5350"/><rect x="597" y="422" width="3" height="8" fill="#ef5350"/><rect x="602" y="402" width="1" height="31" fill="#26a69a"/><rect x="601" y="418" width="3" height="12" fill="#26a69a"/><rect x="606" y="411" width="1" height="26" fill="#ef5350"/><rect x="605" y="418" width="3" height="4" fill="#ef5350"/><rect x="609" y="422" width="1" height="48" fill="#ef5350"/><rect x="608" y="422" width="3" height="34" fill="#ef5350"/><rect x="613" y="430" width="1" height="38" fill="#26a69a"/><rect x="612" y="436" width="3" height="20" fill="#26a69a"/><rect x="617" y="416" width="1" height="31" fill="#26a69a"/><rect x="616" y="426" width="3" height="11" fill="#26a69a"/><rect x="621" y="394" width="1" height="38" fill="#26a69a"/><rect x="620" y="408" width="3" height="19" fill="#26a69a"/><rect x="625" y="395" width="1" height="19" fill="#26a69a"/><rect x="624" y="400" width="3" height="9" fill="#26a69a"/><rect x="629" y="359" width="1" height="45" fill="#26a69a"/><rect x="628" y="391" width="3" height="10" fill="#26a69a"/><rect x="633" y="368" width="1" height="29" fill="#26a69a"/><rect x="632" y="380" width="3" height="12" fill="#26a69a"/><rect x="637" y="353" width="1" height="44" fill="#26a69a"/><rect x="636" y="379" width="3" height="2" fill="#26a69a"/><rect x="641" y="364" width="1" height="28" fill="#26a69a"/><rect x="640" y="371" width="3" height="9" fill="#26a69a"/><rect x="644" y="366" width="1" height="34" fill="#ef5350"/><rect x="643" y="371" width="3" height="4" fill="#ef5350"/><rect x="648" y="355" width="1" height="34" fill="#26a69a"/><rect x="647" y="372" width="3" height="3" fill="#26a69a"/><rect x="652" y="333" width="1" height="45" fill="#26a69a"/><rect x="651" y="338" width="3" height="35" fill="#26a69a"/><rect x="656" y="326" width="1" height="24" fill="#26a69a"/><rect x="655" y="334" width="3" height="5" fill="#26a69a"/><rect x="660" y="329" width="1" height="41" fill="#ef5350"/><rect x="659" y="334" width="3" height="31" fill="#ef5350"/><rect x="664" y="355" width="1" height="40" fill="#26a69a"/><rect x="663" y="362" width="3" height="3" fill="#26a69a"/><rect x="668" y="341" width="1" height="36" fill="#ef5350"/><rect x="667" y="362" width="3" height="6" fill="#ef5350"/><rect x="672" y="361" width="1" height="34" fill="#ef5350"/><rect x="671" y="368" width="3" height="12" fill="#ef5350"/><rect x="676" y="370" width="1" height="28" fill="#26a69a"/><rect x="675" y="373" width="3" height="7" fill="#26a69a"/><rect x="679" y="367" width="1" height="38" fill="#ef5350"/><rect x="678" y="373" width="3" height="9" fill="#ef5350"/><rect x="683" y="365" width="1" height="28" fill="#ef5350"/><rect x="682" y="381" width="3" height="10" fill="#ef5350"/><rect x="687" y="376" width="1" height="22" fill="#26a69a"/><rect x="686" y="388" width="3" height="3" fill="#26a69a"/><rect x="691" y="368" width="1" height="31" fill="#26a69a"/><rect x="690" y="373" width="3" height="16" fill="#26a69a"/><rect x="695" y="328" width="1" height="45" fill="#26a69a"/><rect x="694" y="336" width="3" height="37" fill="#26a69a"/><rect x="699" y="330" width="1" height="38" fill="#ef5350"/><rect x="698" y="336" width="3" height="26" fill="#ef5350"/><rect x="703" y="351" width="1" height="25" fill="#ef5350"/><rect x="702" y="361" width="3" height="1" fill="#ef5350"/><rect x="707" y="359" width="1" height="14" fill="#ef5350"/><rect x="706" y="361" width="3" height="6" fill="#ef5350"/><rect x="711" y="330" width="1" height="44" fill="#26a69a"/><rect x="710" y="367" width="3" height="1" fill="#26a69a"/></g>
<g stroke-linecap="butt"><line x1="220.5" y1="652" x2="773" y2="439.9" stroke="#2f66ff" stroke-width="1.15"/><line x1="558" y1="522.2" x2="773" y2="317.1" stroke="#2f66ff" stroke-width="1.15"/><line x1="543.2" y1="177.5" x2="752.8" y2="448.9" stroke="#2f66ff" stroke-width="1.15"/></g>
</svg>
<div class="frame"></div>
<div class="mono" id="h1" style="left:6px;top:7px;letter-spacing:-0.525px">ibus47 <span class="cj">發表在</span>TradingView.com, <span class="cj">八月</span> 05, 2021 00:26:40 CST</div>
<div class="mono" id="h2" style="left:6px;top:25px">FOREXCOM:XAUUSD, 1D</div><div class="mono" id="h2b" style="left:144.2px;top:25px">1810.78</div>
<svg style="position:absolute;left:194px;top:22px" width="14" height="14" viewBox="194 22 14 14"><path d="M201.1 24.4 L206.2 33.7 L196 33.7 Z" fill="#26a69a"/></svg>
<div class="mono" id="h3" style="left:210.8px;top:25px">+0.05 (+0%)</div>
<div class="mono" id="h4" style="left:291px;top:25px">O:</div><div class="mono" id="h5" style="left:306.5px;top:25px"><span class="v">1810.73</span></div>
<div class="mono" id="h6" style="left:359px;top:25px">H:</div><div class="mono" id="h7" style="left:374.5px;top:25px"><span class="v">1831.78</span></div>
<div class="mono" id="h8" style="left:426.5px;top:25px">L:</div><div class="mono" id="h9" style="left:442.3px;top:25px"><span class="v">1806.61</span></div>
<div class="mono" id="h10" style="left:494.5px;top:25px">C:</div><div class="mono" id="h11" style="left:510.5px;top:25px"><span class="v">1810.75</span></div>
<div class="mono" id="l1" style="left:15px;top:55px"><span class="cj">黃金</span> / <span class="cj">美元</span>, 1<span class="cj">天</span>, FOREX.com</div>
<div class="mono" id="l2" style="left:15px;top:73px">EMA (20, close)</div>
<div class="mono" id="l3" style="left:15px;top:90px">EMA (60, close)</div>
<div class="mono" id="l4" style="left:15px;top:107px">EMA (120, close)</div>
<div class="mono" id="l5" style="left:15px;top:124px">EMA (240, close)</div>
<div class="mono" id="l6" style="left:15px;top:140px;letter-spacing:-0.51px"><span class="cj">成交量</span>(Vol): The data vendor doesn't provide volume data for this symbol.</div>
<div class="pl" style="top:60.8px">1980.00</div><div class="pl" style="top:96.0px">1960.00</div><div class="pl" style="top:131.3px">1940.00</div><div class="pl" style="top:166.6px">1920.00</div><div class="pl" style="top:201.8px">1900.00</div><div class="pl" style="top:237.1px">1880.00</div><div class="pl" style="top:272.3px">1860.00</div><div class="pl" style="top:307.6px">1840.00</div><div class="pl" style="top:342.8px">1820.00</div><div class="pl" style="top:378.1px">1800.00</div><div class="pl" style="top:413.3px">1780.00</div><div class="pl" style="top:448.6px">1760.00</div><div class="pl" style="top:483.8px">1740.00</div><div class="pl" style="top:519.0px">1720.00</div><div class="pl" style="top:554.3px">1700.00</div><div class="pl" style="top:589.5px">1680.00</div><div class="pl" style="top:624.8px">1660.00</div>
<div class="tm" style="left:3.5px">十二月</div><div class="tm b" style="left:89.5px">2021</div><div class="tm" style="left:245.5px">三月</div><div class="tm" style="left:334.5px">四月</div><div class="tm" style="left:420.5px">五月</div><div class="tm" style="left:502.5px">六月</div><div class="tm" style="left:587.5px">七月</div><div class="tm" style="left:673.5px">八月</div><div class="tm" style="left:790.5px">九月</div>
<div class="usd">USD</div>
<div class="cur"><i></i><span>1810.75</span></div>
<svg class="ev" style="position:absolute;left:696px;top:620px" width="56" height="34" viewBox="696 620 56 34"><circle cx="734" cy="638" r="11.25" fill="#fff" stroke="#fbc02d" stroke-width="1.5"/><clipPath id="k3"><circle cx="734" cy="638" r="9.0"/></clipPath><g clip-path="url(#k3)"><rect x="725.0" y="629.0" width="18" height="18" fill="#ef5350"/><rect x="725.0" y="640.0" width="18" height="1.8" fill="#fff"/><rect x="725.0" y="644.6" width="18" height="1.1" fill="#fff"/><rect x="725.0" y="629.0" width="10.6" height="10.3" fill="#4f7df0"/><rect x="726.8" y="631.7" width="1.3" height="1.3" fill="#dbe6ff"/><rect x="726.8" y="634.6" width="1.3" height="1.3" fill="#dbe6ff"/><rect x="726.8" y="637.5" width="1.3" height="1.3" fill="#dbe6ff"/><rect x="729.9" y="631.7" width="1.3" height="1.3" fill="#dbe6ff"/><rect x="729.9" y="634.6" width="1.3" height="1.3" fill="#dbe6ff"/><rect x="729.9" y="637.5" width="1.3" height="1.3" fill="#dbe6ff"/><rect x="733.0" y="631.7" width="1.3" height="1.3" fill="#dbe6ff"/><rect x="733.0" y="634.6" width="1.3" height="1.3" fill="#dbe6ff"/><rect x="733.0" y="637.5" width="1.3" height="1.3" fill="#dbe6ff"/></g><circle cx="730" cy="638" r="11.0" fill="#fff" stroke="#ef5350" stroke-width="2"/><clipPath id="k2"><circle cx="730" cy="638" r="9.0"/></clipPath><g clip-path="url(#k2)"><rect x="721.0" y="629.0" width="18" height="18" fill="#ef5350"/><rect x="721.0" y="640.0" width="18" height="1.8" fill="#fff"/><rect x="721.0" y="644.6" width="18" height="1.1" fill="#fff"/><rect x="721.0" y="629.0" width="10.6" height="10.3" fill="#4f7df0"/><rect x="722.8" y="631.7" width="1.3" height="1.3" fill="#dbe6ff"/><rect x="722.8" y="634.6" width="1.3" height="1.3" fill="#dbe6ff"/><rect x="722.8" y="637.5" width="1.3" height="1.3" fill="#dbe6ff"/><rect x="725.9" y="631.7" width="1.3" height="1.3" fill="#dbe6ff"/><rect x="725.9" y="634.6" width="1.3" height="1.3" fill="#dbe6ff"/><rect x="725.9" y="637.5" width="1.3" height="1.3" fill="#dbe6ff"/><rect x="729.0" y="631.7" width="1.3" height="1.3" fill="#dbe6ff"/><rect x="729.0" y="634.6" width="1.3" height="1.3" fill="#dbe6ff"/><rect x="729.0" y="637.5" width="1.3" height="1.3" fill="#dbe6ff"/></g><rect x="714.5" y="621" width="31" height="15" rx="6" fill="#fff"/><circle cx="711" cy="638" r="10.85" fill="#fff" stroke="#ef5350" stroke-width="2.3"/><clipPath id="k1"><circle cx="711" cy="638" r="9.0"/></clipPath><g clip-path="url(#k1)"><rect x="702.0" y="629.0" width="18" height="18" fill="#ef5350"/><rect x="702.0" y="640.0" width="18" height="1.8" fill="#fff"/><rect x="702.0" y="644.6" width="18" height="1.1" fill="#fff"/><rect x="702.0" y="629.0" width="10.6" height="10.3" fill="#4f7df0"/><rect x="703.8" y="631.7" width="1.3" height="1.3" fill="#dbe6ff"/><rect x="703.8" y="634.6" width="1.3" height="1.3" fill="#dbe6ff"/><rect x="703.8" y="637.5" width="1.3" height="1.3" fill="#dbe6ff"/><rect x="706.9" y="631.7" width="1.3" height="1.3" fill="#dbe6ff"/><rect x="706.9" y="634.6" width="1.3" height="1.3" fill="#dbe6ff"/><rect x="706.9" y="637.5" width="1.3" height="1.3" fill="#dbe6ff"/><rect x="710.0" y="631.7" width="1.3" height="1.3" fill="#dbe6ff"/><rect x="710.0" y="634.6" width="1.3" height="1.3" fill="#dbe6ff"/><rect x="710.0" y="637.5" width="1.3" height="1.3" fill="#dbe6ff"/></g><rect x="714.5" y="623" width="12" height="12.5" rx="5" fill="#fff"/><g font-family="Liberation Mono, monospace" font-size="11" fill="#2a2e39"><text x="716.1" y="633.8">9</text><text x="725" y="633.2" font-size="9.5">)</text><text x="736.2" y="633.8">9</text></g></svg>
<svg class="logo" width="22" height="11.3" viewBox="0 4 35.5 18" preserveAspectRatio="none"><path d="M14 22H7V11H0V4h14v18zM28 22h-8l7.5-18h8L28 22z" fill="#131722"/><circle cx="20" cy="8" r="4" fill="#131722"/></svg>
<div class="tv">TradingView</div>
</body></html>
